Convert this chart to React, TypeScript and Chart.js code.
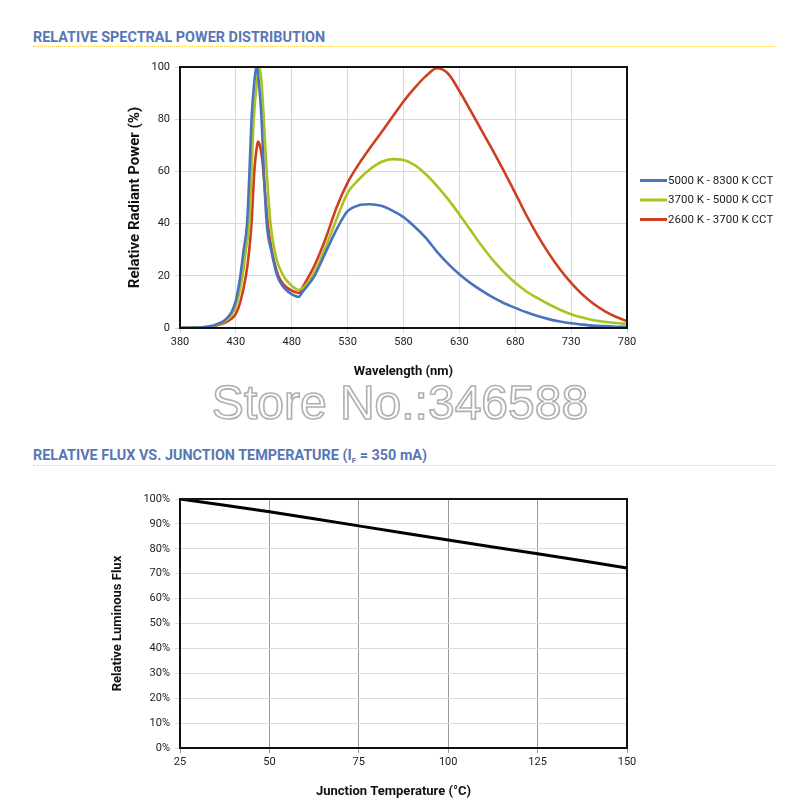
import React, { useEffect, useRef } from "react";
import { Chart, registerables } from "chart.js";

Chart.register(...registerables);

// ---------- Chart 1: Relative spectral power distribution ----------
const seriesLabels = ["5000 K - 8300 K CCT", "3700 K - 5000 K CCT", "2600 K - 3700 K CCT"];
const seriesColors = ["#4a72bf", "#a9c41f", "#cf3f1f"];

const blueWavelengths = [380, 390, 400, 410, 415, 420, 426, 430, 434, 437, 440, 442, 444, 446, 448.6, 451, 453, 455, 457.6, 462, 467, 472, 478, 482, 486, 490, 500, 510, 520, 525, 530, 540, 550, 560, 570, 580, 590, 600, 610, 620, 630, 640, 650, 660, 670, 680, 690, 700, 710, 720, 730, 740, 750, 760, 770, 780];
const blueValues = [0, 0.1, 0.3, 1, 1.8, 3, 6, 10.5, 20, 30, 40, 58, 80, 92, 100, 92, 80, 60, 40, 29, 20, 16, 13.5, 12.5, 11.9, 14, 19.7, 28.7, 37.7, 41.6, 44.8, 47, 47.4, 46.8, 45, 42.5, 38.8, 34.5, 29.2, 24.6, 20.6, 17.2, 14.3, 11.7, 9.5, 7.7, 6, 4.6, 3.4, 2.5, 1.8, 1.3, 0.9, 0.7, 0.5, 0.4];

const greenWavelengths = [380, 390, 400, 410, 415, 420, 426, 430, 436, 439, 442, 444, 446, 449, 451, 453, 455, 457.6, 461, 466, 472.5, 478, 482, 486, 490, 500, 510, 520, 530, 540, 550, 560, 570, 580, 590, 600, 610, 620, 630, 640, 650, 660, 670, 680, 690, 700, 710, 720, 730, 740, 750, 760, 770, 780];
const greenValues = [0, 0.1, 0.3, 0.9, 1.5, 2.5, 5, 8.5, 20, 30, 40, 60, 80, 95, 100, 94, 80, 60, 40, 27, 20, 17, 15.5, 14.6, 15.3, 21, 30.7, 41.6, 51.8, 56.9, 60.8, 63.6, 64.7, 64.4, 62.4, 58.9, 54.4, 49.3, 43.5, 37.5, 31.5, 26, 21.3, 17.3, 14, 11.4, 9.1, 7, 5.3, 4, 3, 2.4, 1.9, 1.6];

const redWavelengths = [380, 390, 400, 410, 415, 420, 426, 430, 434, 439, 442, 444, 446.5, 449, 450, 451, 452, 453.5, 454.6, 456.5, 458.5, 462, 468, 473, 478, 483, 486.6, 490, 500, 510, 520, 530, 540, 550, 560, 570, 580, 590, 600, 610, 620, 630, 640, 650, 660, 670, 680, 690, 700, 710, 720, 730, 740, 750, 760, 770, 780];
const redValues = [0, 0.1, 0.2, 0.7, 1.2, 2, 3.5, 5.5, 10, 20, 30, 40, 60, 70, 71.4, 70.5, 69, 65, 60, 50, 40, 30, 20, 16.5, 14.8, 13.8, 13.4, 15.9, 23.6, 33.9, 46.1, 55.7, 62.8, 69, 74.8, 80.8, 86.8, 92, 96.5, 99.5, 97.4, 90.8, 83.3, 75.6, 68, 60, 51.7, 43.2, 35.5, 28.6, 22.5, 17.3, 12.9, 9.3, 6.5, 4.3, 2.6];

// ---------- Chart 2: Relative flux vs junction temperature ----------
const junctionTemps = [25, 50, 75, 100, 125, 150];
const relativeFlux = [100, 94.9, 89.2, 83.5, 78, 72.3];

const FONT = "Roboto, 'Noto Sans', sans-serif";
const tickFont = { family: FONT, size: 11 };
const TICK_COLOR = "#222";

const boxPlugin = {
  id: "box",
  afterDraw(chart: any) {
    const { ctx, chartArea } = chart;
    ctx.save();
    ctx.strokeStyle = "#111";
    ctx.lineWidth = 2;
    ctx.strokeRect(chartArea.left, chartArea.top, chartArea.right - chartArea.left, chartArea.bottom - chartArea.top);
    ctx.restore();
  },
};

const legendPlugin = {
  id: "sideLegend",
  afterDraw(chart: any) {
    const { ctx, chartArea } = chart;
    const mid = (chartArea.top + chartArea.bottom) / 2;
    const offsets = [-17, 2.5, 22];
    ctx.save();
    chart.data.datasets.forEach((ds: any, i: number) => {
      const y = mid + offsets[i];
      ctx.strokeStyle = ds.borderColor;
      ctx.lineWidth = 3;
      ctx.beginPath();
      ctx.moveTo(chartArea.right + 13, y);
      ctx.lineTo(chartArea.right + 40, y);
      ctx.stroke();
      ctx.fillStyle = "#1a1a1a";
      ctx.font = `11.5px ${FONT}`;
      ctx.textBaseline = "middle";
      ctx.fillText(ds.label, chartArea.right + 41, y + 0.5);
    });
    ctx.restore();
  },
};

// bottom axis title drawn slightly left of centre, as in the reference
const fluxXTitle = "Junction Temperature (°C)";
const xTitlePlugin = {
  id: "xTitle",
  afterDraw(chart: any) {
    const { ctx, chartArea } = chart;
    ctx.save();
    ctx.fillStyle = "#111";
    ctx.font = `bold 13px ${FONT}`;
    ctx.textAlign = "center";
    ctx.textBaseline = "middle";
    ctx.fillText(fluxXTitle, (chartArea.left + chartArea.right) / 2 - 10, chartArea.bottom + 44);
    ctx.restore();
  },
};

function SpectralChart() {
  const ref = useRef<HTMLCanvasElement>(null);
  useEffect(() => {
    const toPts = (xs: number[], ys: number[]) => xs.map((x, i) => ({ x, y: ys[i] }));
    const chart = new Chart(ref.current!, {
      type: "line",
      data: {
        datasets: [
          { label: seriesLabels[0], data: toPts(blueWavelengths, blueValues), borderColor: seriesColors[0] },
          { label: seriesLabels[1], data: toPts(greenWavelengths, greenValues), borderColor: seriesColors[1] },
          { label: seriesLabels[2], data: toPts(redWavelengths, redValues), borderColor: seriesColors[2] },
        ].map((d) => ({ ...d, borderWidth: 2.6, pointRadius: 0, cubicInterpolationMode: "monotone" as const, fill: false })),
      },
      options: {
        responsive: false,
        animation: false,
        layout: { padding: { left: 0, right: 173, top: 12, bottom: 0 } },
        plugins: { legend: { display: false }, tooltip: { enabled: false } },
        scales: {
          x: {
            type: "linear",
            min: 380,
            max: 780,
            ticks: { stepSize: 50, font: tickFont, color: TICK_COLOR, padding: 3 },
            grid: { color: "#d9d9d9", tickLength: 5, lineWidth: 1 },
            border: { display: false },
            title: { display: true, text: "Wavelength (nm)", font: { family: FONT, size: 13, weight: "bold" }, color: "#111", padding: { top: 0, bottom: 10 } },
            afterFit: (s: any) => { s.height = 62; },
          },
          y: {
            min: 0,
            max: 100,
            ticks: { stepSize: 20, font: tickFont, color: TICK_COLOR, padding: 5 },
            grid: { color: "#d9d9d9", tickLength: 5, lineWidth: 1 },
            border: { display: false },
            title: { display: true, text: "Relative Radiant Power (%)", font: { family: FONT, size: 15, weight: "bold" }, color: "#111", padding: { top: 66, bottom: 0 } },
            afterFit: (s: any) => { s.width = 120; },
          },
        },
      },
      plugins: [boxPlugin, legendPlugin],
    } as any);
    return () => chart.destroy();
  }, []);
  return <canvas ref={ref} width={740} height={335} style={{ position: "absolute", left: 60, top: 55, width: 740, height: 335 }} />;
}

function FluxChart() {
  const ref = useRef<HTMLCanvasElement>(null);
  useEffect(() => {
    const chart = new Chart(ref.current!, {
      type: "line",
      data: {
        datasets: [
          {
            label: "Relative Luminous Flux",
            data: junctionTemps.map((t, i) => ({ x: t, y: relativeFlux[i] })),
            borderColor: "#000",
            borderWidth: 3,
            pointRadius: 0,
            tension: 0.3,
            fill: false,
          },
        ],
      },
      options: {
        responsive: false,
        animation: false,
        layout: { padding: { left: 0, right: 173, top: 14, bottom: 0 } },
        plugins: { legend: { display: false }, tooltip: { enabled: false } },
        scales: {
          x: {
            type: "linear",
            min: 25,
            max: 150,
            ticks: { stepSize: 25, font: tickFont, color: TICK_COLOR, padding: 3 },
            grid: { color: "#9a9a9a", tickLength: 5, lineWidth: 1 },
            border: { display: false },
            title: { display: false },
            afterFit: (s: any) => { s.height = 60; },
          },
          y: {
            min: 0,
            max: 100,
            ticks: { stepSize: 10, font: tickFont, color: TICK_COLOR, padding: 5, callback: (v: any) => `${v}%` },
            grid: { color: "#dcdcdc", tickLength: 5, lineWidth: 1 },
            border: { display: false },
            title: { display: true, text: "Relative Luminous Flux", font: { family: FONT, size: 13, weight: "bold" }, color: "#111", padding: { top: 50, bottom: 0 } },
            afterFit: (s: any) => { s.width = 120; },
          },
        },
      },
      plugins: [boxPlugin, xTitlePlugin],
    } as any);
    return () => chart.destroy();
  }, []);
  return <canvas ref={ref} width={740} height={323} style={{ position: "absolute", left: 60, top: 485, width: 740, height: 323 }} />;
}

const headingStyle: React.CSSProperties = {
  position: "absolute",
  left: 33,
  fontFamily: FONT,
  fontWeight: 700,
  fontSize: 14.4,
  lineHeight: "17px",
  color: "#5877b4",
  whiteSpace: "nowrap",
};
const ruleStyle: React.CSSProperties = {
  position: "absolute",
  left: 33,
  width: 742,
  height: 0,
  borderTop: "1.5px dotted #f0cc55",
};

export default function App() {
  return (
    <div style={{ position: "absolute", left: 0, top: 0, width: 800, height: 808, background: "#fff", overflow: "hidden" }}>
      <div style={{ ...headingStyle, top: 29 }}>RELATIVE SPECTRAL POWER DISTRIBUTION</div>
      <div style={{ ...ruleStyle, top: 46 }} />
      <SpectralChart />
      <div
        style={{
          position: "absolute",
          left: 0,
          width: 800,
          top: 376,
          textAlign: "center",
          fontFamily: "'Liberation Sans', Arial, sans-serif",
          fontSize: 48,
          lineHeight: "54px",
          color: "#fff",
          WebkitTextStroke: "1.6px #b0b0b0",
          textShadow: "0 0 2px #ddd",
        }}
      >
        Store No.:346588
      </div>
      <div style={{ ...headingStyle, top: 447 }}>
        RELATIVE FLUX VS. JUNCTION TEMPERATURE (I<sub style={{ fontSize: 8, verticalAlign: "-3px" }}>F</sub> = 350 mA)
      </div>
      <div style={{ ...ruleStyle, top: 465 }} />
      <FluxChart />
    </div>
  );
}
